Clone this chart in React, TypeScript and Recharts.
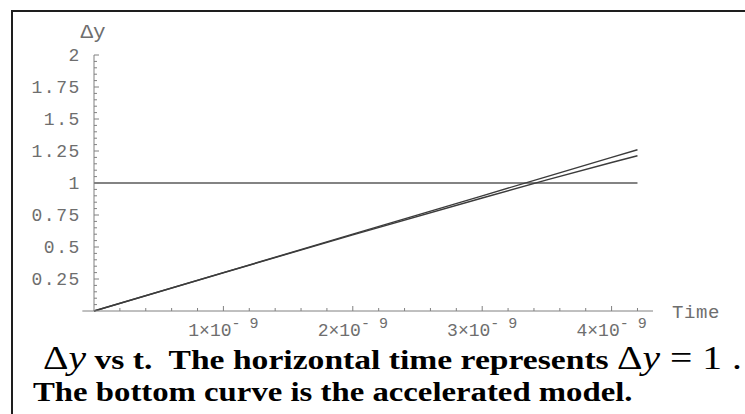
import React from 'react';
import { LineChart, Line, XAxis, YAxis, ReferenceLine } from 'recharts';

// time in units of 1e-9
const times = [0, 1, 2, 3, 3.5, 4, 4.2];
const standardModel = [0, 0.3, 0.6, 0.9, 1.05, 1.2, 1.26];
const acceleratedModel = [0, 0.299, 0.595, 0.883, 1.024, 1.16, 1.213];
const unitLevel = [1, 1, 1, 1, 1, 1, 1];

const xTicks = [0.2, 0.4, 0.6, 0.8, 1, 1.2, 1.4, 1.6, 1.8, 2, 2.2, 2.4, 2.6, 2.8, 3, 3.2, 3.4, 3.6, 3.8, 4, 4.2];
const xMajor = [1, 2, 3, 4];
const yTicks = [0.05, 0.1, 0.15, 0.2, 0.25, 0.3, 0.35, 0.4, 0.45, 0.5, 0.55, 0.6, 0.65, 0.7, 0.75, 0.8, 0.85, 0.9, 0.95, 1,
  1.05, 1.1, 1.15, 1.2, 1.25, 1.3, 1.35, 1.4, 1.45, 1.5, 1.55, 1.6, 1.65, 1.7, 1.75, 1.8, 1.85, 1.9, 1.95, 2];
const yMajor = [0.25, 0.5, 0.75, 1, 1.25, 1.5, 1.75, 2];

const data = times.map((t, i) => ({
    t,
    standard: standardModel[i],
    accelerated: acceleratedModel[i],
    level: unitLevel[i],
}));

const tickFont = { fontFamily: '"Liberation Mono", monospace', fontSize: 18, fill: '#6e6e6e' };
const axisColor = '#808080';

const isMajor = (list: number[], v: number) => list.find((m) => Math.abs(m - v) < 1e-6);

const TimeTick = (props: any) => {
    const { x, y, payload } = props;
    const major = isMajor(xMajor, payload.value);
    return (
        <g>
            <line x1={x} x2={x} y1={y} y2={y - (major !== undefined ? 5 : 3)} stroke={axisColor} />
            {major !== undefined && (
                <text x={x} y={y + 25} textAnchor="middle" {...tickFont}>
                    {major}×10
                    <tspan dy={-8} fontSize={15}>- 9</tspan>
                </text>
            )}
        </g>
    );
};

const DeltaTick = (props: any) => {
    const { x, y, payload } = props;
    const major = isMajor(yMajor, payload.value);
    return (
        <g>
            <line x1={x} x2={x + (major !== undefined ? 5 : 3)} y1={y} y2={y} stroke={axisColor} />
            {major !== undefined && (
                <text x={x - 13} y={y + 6} textAnchor="end" {...tickFont} letterSpacing={1.6}>
                    {String(major)}
                </text>
            )}
        </g>
    );
};

const TimeLabel = (props: any) => {
    const { x, y, width } = props.viewBox;
    return (
        <text x={x + width + 19} y={y + 7} {...tickFont} fontSize={19} letterSpacing={0.6}>
            Time
        </text>
    );
};

const DeltaLabel = (props: any) => {
    const { x, y, width } = props.viewBox;
    return (
        <text x={x + width - 1} y={y - 17} textAnchor="middle" {...tickFont} fontSize={21}>
            Δy
        </text>
    );
};

const serif = '"Liberation Serif", "Times New Roman", serif';

export default function App() {
    return (
        <div style={{ position: 'absolute', left: 0, top: 0, width: 745, height: 414, background: '#fff', overflow: 'hidden' }}>
            <div style={{ position: 'absolute', left: 11, top: 10, width: 760, height: 420, borderLeft: '2px solid #1e1e1e', borderTop: '2px solid #1e1e1e' }} />
            <div style={{ position: 'absolute', left: 0, top: 0 }}>
                <LineChart width={745} height={414} data={data} margin={{ top: 55, right: 92, left: 0, bottom: 73 }}>
                    <XAxis
                        dataKey="t"
                        type="number"
                        domain={[0, 4.32]}
                        ticks={xTicks}
                        interval={0}
                        tickSize={0}
                        tickMargin={0}
                        tickLine={false}
                        tick={<TimeTick />}
                        height={30}
                        stroke={axisColor}
                        label={<TimeLabel />}
                    />
                    <YAxis
                        type="number"
                        domain={[0, 2]}
                        ticks={yTicks}
                        interval={0}
                        tickSize={0}
                        tickMargin={0}
                        tickLine={false}
                        tick={<DeltaTick />}
                        width={94}
                        stroke={axisColor}
                        label={<DeltaLabel />}
                    />
                    <ReferenceLine
                        segment={[{ x: -0.09, y: 0 }, { x: 0, y: 0 }]}
                        ifOverflow="visible"
                        stroke={axisColor}
                    />
                    <Line type="linear" dataKey="level" stroke="#5a5a5a" strokeWidth={1.3} dot={false} isAnimationActive={false} />
                    <Line type="linear" dataKey="standard" stroke="#3c3c3c" strokeWidth={1.4} dot={false} isAnimationActive={false} />
                    <Line type="linear" dataKey="accelerated" stroke="#3c3c3c" strokeWidth={1.4} dot={false} isAnimationActive={false} />
                </LineChart>
            </div>
            <div style={{ position: 'absolute', left: 43, top: 341, whiteSpace: 'pre', fontFamily: serif, fontSize: 28, lineHeight: '34px', color: '#000', transform: 'scaleX(1.2)', transformOrigin: '0 0' }}>
                <span style={{ fontSize: 33 }}>Δ<i>y</i></span>
                <b> vs t.  The horizontal time represents </b>
                <span style={{ fontSize: 33 }}>Δ<i>y</i> = 1 .</span>
            </div>
            <div style={{ position: 'absolute', left: 33, top: 375, whiteSpace: 'pre', fontFamily: serif, fontSize: 28, lineHeight: '34px', fontWeight: 'bold', color: '#000', transform: 'scaleX(1.17)', transformOrigin: '0 0' }}>
                The bottom curve is the accelerated model.
            </div>
        </div>
    );
}
